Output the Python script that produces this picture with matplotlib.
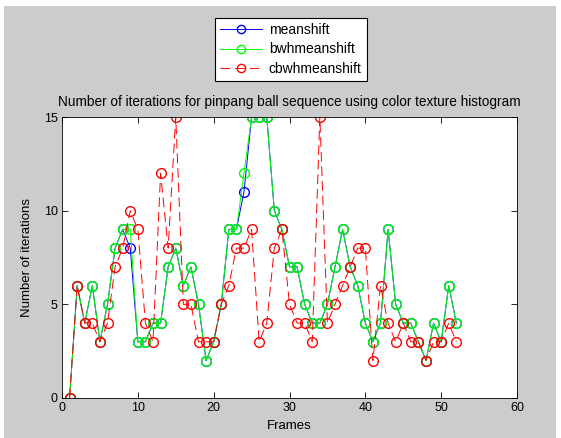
import numpy as np
import matplotlib
matplotlib.use("Agg")
import matplotlib.pyplot as plt
from matplotlib.patches import Rectangle

plt.rcParams["font.family"] = ["Liberation Sans", "DejaVu Sans"]

frames = list(range(1, 53))
meanshift = [0, 6, 4, 6, 3, 5, 8, 9, 8, 3, 3, 4, 4, 7, 8, 6, 7, 5, 2, 3,
             5, 9, 9, 11, 15, 15, 15, 10, 9, 7, 7, 5, 4, 4, 5, 7, 9, 7, 6, 4,
             3, 4, 9, 5, 4, 4, 3, 2, 4, 3, 6, 4]
bwhmeanshift = [0, 6, 4, 6, 3, 5, 8, 9, 9, 3, 3, 4, 4, 7, 8, 6, 7, 5, 2, 3,
                5, 9, 9, 12, 15, 15, 15, 10, 9, 7, 7, 5, 4, 4, 5, 7, 9, 7, 6, 4,
                3, 4, 9, 5, 4, 4, 3, 2, 4, 3, 6, 4]
cbwhmeanshift = [0, 6, 4, 4, 3, 4, 7, 8, 10, 9, 4, 3, 12, 8, 15, 5, 5, 3, 3, 3,
                 5, 6, 8, 8, 9, 3, 4, 8, 9, 5, 4, 4, 3, 15, 4, 5, 6, 7, 8, 8,
                 2, 6, 4, 3, 4, 3, 3, 2, 3, 3, 4, 3]

fig = plt.figure(figsize=(5.61, 4.38), dpi=100, facecolor="white")
fig.patches.append(Rectangle((4 / 561, 0), 552 / 561, 1 - 6 / 438,
                             transform=fig.transFigure, facecolor="#cccccc",
                             edgecolor="none", zorder=-10))

ax = fig.add_axes([62 / 561, 40 / 438, 455 / 561, 281 / 438])
ax.set_facecolor("white")

ms = 7
ax.plot(frames, meanshift, color="blue", marker="o", mfc="none", ms=ms,
        lw=0.7, label="meanshift")
ax.plot(frames, bwhmeanshift, color="#00ff00", marker="o", mfc="none", ms=ms,
        lw=0.7, label="bwhmeanshift")
ax.plot(frames, cbwhmeanshift, color="red", marker="o", mfc="none", ms=ms,
        lw=0.7, ls=(0, (10, 5)), label="cbwhmeanshift")

ax.set_xlim(0, 60)
ax.set_ylim(0, 15)
ax.set_xticks(range(0, 61, 10))
ax.set_yticks([0, 5, 10, 15])
ax.tick_params(direction="in", top=True, right=True, labelsize=9,
               length=4, width=0.6, pad=3)
for s in ax.spines.values():
    s.set_linewidth(0.6)

ax.set_title("Number of iterations for pinpang ball sequence using color texture histogram",
             fontsize=9.8, pad=8)
ax.set_xlabel("Frames", fontsize=9.5, labelpad=4)
ax.set_ylabel("Number of iterations", fontsize=9.5, labelpad=8)

leg = fig.legend(loc="upper center", bbox_to_anchor=(291 / 561, 1 - 11 / 438),
                 fontsize=10, fancybox=False, edgecolor="black", framealpha=1,
                 handlelength=3.0, borderpad=0.35, labelspacing=0.4,
                 handletextpad=0.5, markerscale=0.85)
leg.get_frame().set_linewidth(0.8)

fig.savefig("out.png", dpi=100, facecolor=fig.get_facecolor())
